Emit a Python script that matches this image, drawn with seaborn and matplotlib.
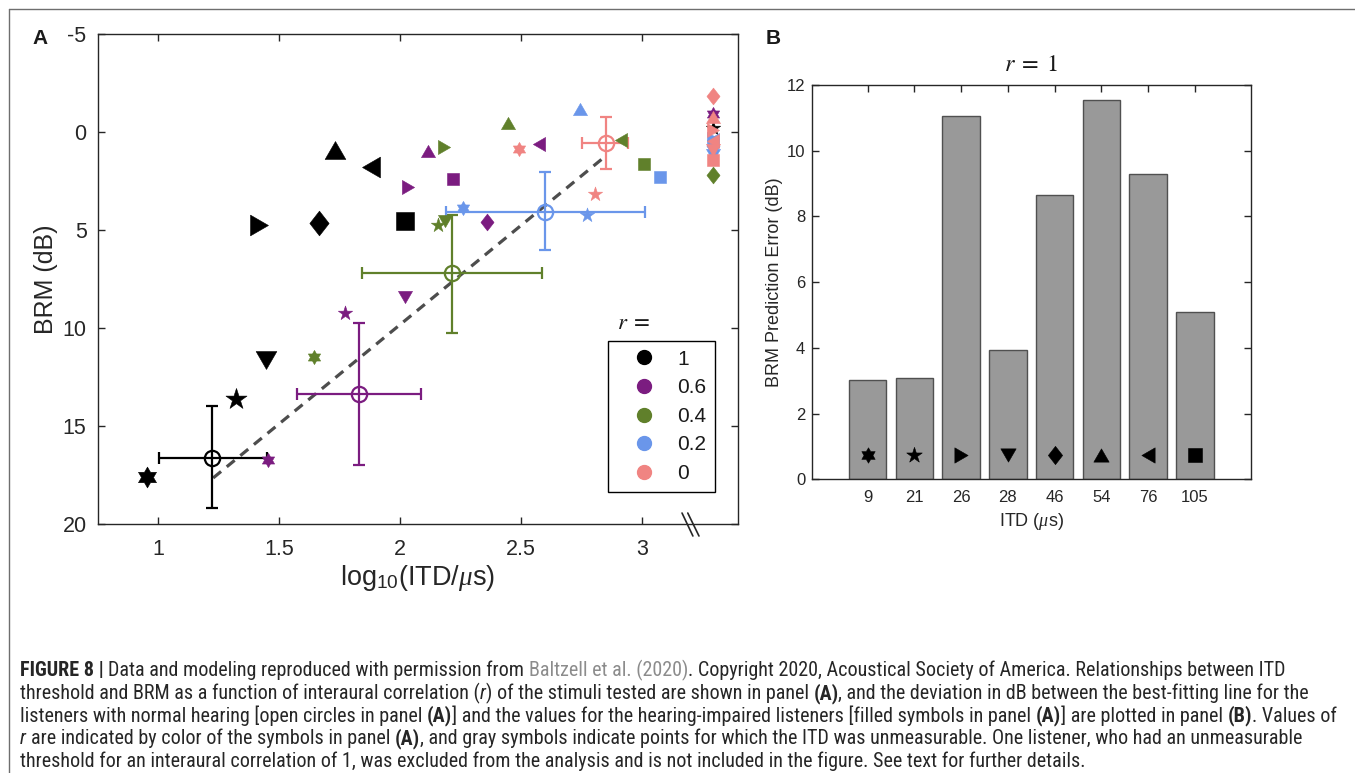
import numpy as np
import pandas as pd
import matplotlib
matplotlib.use("Agg")
import matplotlib.pyplot as plt
from matplotlib.path import Path
from matplotlib.lines import Line2D
from matplotlib.transforms import IdentityTransform
from matplotlib import font_manager
import seaborn as sns

# ---------------------------------------------------------------- data
# Hearing-impaired listeners, r = 1 (one symbol per listener)
itd_us = [9, 21, 26, 28, 46, 54, 76, 105]
itd_tick_labels = ["9", "21", "26", "28", "46", "54", "76", "105"]
listener_shapes = ["hexagram", "pentagram", "right", "down", "diamond", "up", "left", "square"]
brm_r1 = [17.62, 13.60, 4.72, 11.63, 4.64, 0.91, 1.79, 4.56]
prediction_error_db = [3.02, 3.09, 11.05, 3.95, 8.64, 11.54, 9.29, 5.08]

# r = 0.6
shapes_r06 = ["up", "right", "square", "diamond", "left", "down", "pentagram", "hexagram"]
log_itd_r06 = [2.113, 2.033, 2.219, 2.357, 2.574, 2.019, 1.771, 1.452]
brm_r06 = [0.99, 2.81, 2.40, 4.61, 0.60, 8.44, 9.22, 16.74]

# r = 0.4
shapes_r04 = ["up", "right", "left", "square", "pentagram", "down", "hexagram"]
log_itd_r04 = [2.446, 2.181, 2.911, 3.008, 2.157, 2.185, 1.643]
brm_r04 = [-0.45, 0.79, 0.40, 1.62, 4.76, 4.56, 11.46]

# r = 0.2
shapes_r02 = ["up", "square", "pentagram", "hexagram"]
log_itd_r02 = [2.743, 3.073, 2.770, 2.260]
brm_r02 = [-1.17, 2.30, 4.22, 3.87]

# r = 0
shapes_r0 = ["hexagram", "pentagram"]
log_itd_r0 = [2.492, 2.805]
brm_r0 = [0.87, 3.15]

# Unmeasurable ITD thresholds, shown past the axis break
unmeasurable_log_itd = 3.292
unmeas_r = ["0.6", "1", "0.2", "0.2", "0.2", "0.2", "0", "0", "0", "0", "0", "0", "0.4"]
unmeas_shapes = ["hexagram", "pentagram", "right", "left", "diamond", "down",
                 "up", "right", "left", "down", "square", "diamond", "diamond"]
unmeas_brm = [-0.9, -0.2, 0.35, 0.4, 0.7, 1.15, -0.75, -0.1, 0.45, 0.9, 1.45, -1.86, 2.21]

# Normal-hearing group means with their ranges
nh_r = ["1", "0.6", "0.4", "0.2", "0"]
nh_log_itd = [1.223, 1.829, 2.212, 2.598, 2.849]
nh_log_itd_lo = [1.004, 1.574, 1.843, 2.188, 2.750]
nh_log_itd_hi = [1.448, 2.086, 2.584, 3.011, 2.942]
nh_brm = [16.64, 13.38, 7.18, 4.10, 0.57]
nh_brm_lo = [14.00, 9.73, 4.22, 2.06, -0.74]
nh_brm_hi = [19.20, 16.99, 10.24, 6.03, 1.89]

# Best-fitting line for the normal-hearing listeners
fit_log_itd = [1.227, 2.846]
fit_brm = [17.65, 1.25]

r_levels = ["1", "0.6", "0.4", "0.2", "0"]
r_colors = ["#000000", "#7B1C80", "#60802B", "#6A96EA", "#F08482"]
palette = dict(zip(r_levels, r_colors))

# ---------------------------------------------------------------- style
sns.set_theme(style="ticks")
plt.rcParams["font.family"] = ["Liberation Sans", "DejaVu Sans"]
plt.rcParams["mathtext.fontset"] = "custom"
plt.rcParams["mathtext.rm"] = "Liberation Sans"
plt.rcParams["mathtext.it"] = "Liberation Serif:italic"
plt.rcParams["mathtext.bf"] = "Liberation Sans:bold"
plt.rcParams["axes.unicode_minus"] = False
plt.rcParams["axes.edgecolor"] = "#262626"
plt.rcParams["xtick.color"] = "#262626"
plt.rcParams["ytick.color"] = "#262626"
plt.rcParams["text.color"] = "#1a1a1a"


# ---------------------------------------------------------------- markers
def _poly(verts):
    verts = np.asarray(verts, float)
    codes = [Path.MOVETO] + [Path.LINETO] * (len(verts) - 1) + [Path.CLOSEPOLY]
    return Path(np.vstack([verts, verts[:1]]), codes)


def _triangle(angle):
    base = np.array([[0, 0.866], [-1, -0.866], [1, -0.866]])
    t = np.deg2rad(angle)
    rot = np.array([[np.cos(t), -np.sin(t)], [np.sin(t), np.cos(t)]])
    return _poly(base @ rot.T)


def _star(n, inner):
    k = np.arange(2 * n)
    ang = np.pi / 2 + k * np.pi / n
    rad = np.where(k % 2 == 0, 1.0, inner)
    return _poly(np.c_[rad * np.cos(ang), rad * np.sin(ang)])


MARKERS = {
    "up": _triangle(0), "down": _triangle(180),
    "left": _triangle(90), "right": _triangle(-90),
    "square": _poly([[-1, -1], [1, -1], [1, 1], [-1, 1]]),
    "diamond": _poly([[0, 1], [0.78, 0], [0, -1], [-0.78, 0]]),
    "pentagram": _star(5, 0.382),
    "hexagram": _star(6, 0.577),
}
BASE_SIZE = {"up": 14.9, "down": 14.9, "left": 14.9, "right": 14.9,
             "square": 12.7, "diamond": 17.8, "pentagram": 15.9, "hexagram": 15.0}


def draw_points(ax, xs, ys, shapes, color, scale, zorder=4):
    df = pd.DataFrame({"x": xs, "y": ys, "shape": shapes})
    for shp, grp in df.groupby("shape", sort=False):
        size = BASE_SIZE[shp] * scale
        sns.scatterplot(data=grp, x="x", y="y", ax=ax, marker=MARKERS[shp],
                        s=size ** 2, color=color, edgecolor=color, linewidth=0.4,
                        legend=False, zorder=zorder)


# ---------------------------------------------------------------- figure
W, H = 1355, 773
fig = plt.figure(figsize=(W / 100, H / 100), dpi=100)
axA = fig.add_axes([97.7 / W, 1 - 524 / H, 640 / W, 490 / H])
axB = fig.add_axes([812.3 / W, 1 - 479.3 / H, 438.7 / W, 394.3 / H])

# ----- panel A
sns.lineplot(x=fit_log_itd, y=fit_brm, ax=axA, color="#4d4d4d", linewidth=2.3,
             linestyle=(0, (3.2, 2.3)), legend=False, zorder=2)

for r, x, xlo, xhi, y, ylo, yhi in zip(nh_r, nh_log_itd, nh_log_itd_lo, nh_log_itd_hi,
                                      nh_brm, nh_brm_lo, nh_brm_hi):
    c = palette[r]
    axA.errorbar([x], [y], xerr=[[x - xlo], [xhi - x]], yerr=[[y - ylo], [yhi - y]],
                 fmt="o", mfc="none", mec=c, ms=11, mew=1.6, ecolor=c,
                 elinewidth=1.6, capsize=4.3, capthick=1.6, zorder=3)

draw_points(axA, np.log10(itd_us), brm_r1, listener_shapes, palette["1"], 1.0)
draw_points(axA, log_itd_r06, brm_r06, shapes_r06, palette["0.6"], 0.68)
draw_points(axA, log_itd_r04, brm_r04, shapes_r04, palette["0.4"], 0.68)
draw_points(axA, log_itd_r02, brm_r02, shapes_r02, palette["0.2"], 0.68)
draw_points(axA, log_itd_r0, brm_r0, shapes_r0, palette["0"], 0.68)

for r, shp, y in zip(unmeas_r, unmeas_shapes, unmeas_brm):
    draw_points(axA, [unmeasurable_log_itd], [y], [shp], palette[r], 0.68, zorder=5)

axA.set_xlim(0.75, 3.394)
axA.set_ylim(20, -5)
axA.set_xticks([1, 1.5, 2, 2.5, 3])
axA.set_xticklabels(["1", "1.5", "2", "2.5", "3"])
axA.set_yticks([-5, 0, 5, 10, 15, 20])
axA.tick_params(direction="in", length=5, width=1, top=True, right=True, labelsize=15.5)
axA.tick_params(axis="x", pad=11)
axA.tick_params(axis="y", pad=8)
for sp in axA.spines.values():
    sp.set_linewidth(1.0)
axA.set_xlabel(r"log$_{10}$(ITD/$\mu$s)", fontsize=19.5, labelpad=2)
axA.set_ylabel("BRM (dB)", fontsize=18, labelpad=3)

# axis break on the bottom axis
for x0, x1 in [(0.913, 0.930), (0.922, 0.9395)]:
    axA.add_line(Line2D([x0, x1], [0.0224, -0.0245], transform=axA.transAxes,
                        color="#262626", lw=1.2, clip_on=False))

handles = [Line2D([], [], ls="", marker="o", markersize=10, markerfacecolor=c,
                  markeredgecolor=c) for c in r_colors]
leg = axA.legend(handles, r_levels, loc="upper left", bbox_to_anchor=(0.797, 0.3735),
                 bbox_transform=axA.transAxes, frameon=True, fancybox=False,
                 edgecolor="black", framealpha=1, fontsize=15, borderaxespad=0,
                 borderpad=0.42, labelspacing=0.46, handlelength=2.6, handletextpad=0.32)
leg.get_frame().set_linewidth(1.0)
axA.text(0.811, 0.412, r"$r\;=$", transform=axA.transAxes, ha="left", va="center",
         fontsize=16.5, math_fontfamily="stix")

# ----- panel B
sns.barplot(x=itd_tick_labels, y=prediction_error_db, ax=axB, color="#999999",
            edgecolor="#505050", linewidth=1.0, width=0.8, saturation=1, zorder=2)
centers = [p.get_x() + p.get_width() / 2 for p in axB.patches]
for cx, shp in zip(centers, listener_shapes):
    draw_points(axB, [cx], [0.74], [shp], "#000000", 0.74, zorder=4)

axB.set_xlim(-1.185, 8.2)
axB.set_ylim(0, 12)
axB.set_xticks(centers)
axB.set_xticklabels(itd_tick_labels)
axB.set_yticks(np.arange(0, 13, 2))
axB.tick_params(direction="in", length=5, width=1, top=True, right=True, labelsize=12)
axB.tick_params(axis="x", pad=8)
axB.tick_params(axis="y", pad=5)
for sp in axB.spines.values():
    sp.set_linewidth(1.0)
axB.set_xlabel(r"ITD ($\mu$s)", fontsize=13, labelpad=4)
axB.set_ylabel("BRM Prediction Error (dB)", fontsize=13, labelpad=3)
axB.set_title(r"$r\;=\;1$", fontsize=17.5, pad=10, math_fontfamily="stix")

# panel letters
fig.text(32, H - 44, "A", transform=IdentityTransform(), fontsize=15, fontweight="bold",
         ha="left", va="baseline")
fig.text(766, H - 44, "B", transform=IdentityTransform(), fontsize=15, fontweight="bold",
         ha="left", va="baseline")

# ---------------------------------------------------------------- caption
available = {f.name for f in font_manager.fontManager.ttflist}
cap_family = "Liberation Sans"
for name in ["Liberation Sans Narrow", "Roboto Condensed", "Open Sans Condensed"]:
    if name in available:
        cap_family = name
        break

caption_lines = [
    [("FIGURE 8 |", "b"), (" Data and modeling reproduced with permission from ", "n"),
     ("Baltzell et al. (2020)", "g"),
     (". Copyright 2020, Acoustical Society of America. Relationships between ITD", "n")],
    [("threshold and BRM as a function of interaural correlation (", "n"), ("r", "i"),
     (") of the stimuli tested are shown in panel ", "n"), ("(A)", "b"),
     (", and the deviation in dB between the best-fitting line for the", "n")],
    [("listeners with normal hearing [open circles in panel ", "n"), ("(A)", "b"),
     ("] and the values for the hearing-impaired listeners [filled symbols in panel ", "n"),
     ("(A)", "b"), ("] are plotted in panel ", "n"), ("(B)", "b"), (". Values of", "n")],
    [("r", "i"), (" are indicated by color of the symbols in panel ", "n"), ("(A)", "b"),
     (", and gray symbols indicate points for which the ITD was unmeasurable. "
      "One listener, who had an unmeasurable", "n")],
    [("threshold for an interaural correlation of 1, was excluded from the analysis "
      "and is not included in the figure. See text for further details.", "n")],
]
cap_style = {
    "n": dict(color="#262626"),
    "b": dict(color="#262626", fontweight="bold"),
    "i": dict(color="#262626", fontstyle="italic"),
    "g": dict(color="#8c8c8c"),
}
renderer = fig.canvas.get_renderer()


def text_width(s, size, style):
    t = fig.text(0, 0, s, fontsize=size, family=cap_family,
                 transform=IdentityTransform(), **cap_style[style])
    w = t.get_window_extent(renderer).width
    t.remove()
    return w


def space_width(size, style):
    return text_width("x x", size, style) - text_width("xx", size, style)


def line_width(segs, size):
    total = 0.0
    for s, st in segs:
        core = s.strip(" ")
        n_sp = len(s) - len(core)
        total += n_sp * space_width(size, st)
        if core:
            total += text_width(core, size, st)
    return total


# pick the caption size so the widest line spans the text block
cap_size = 10.0
for _ in range(4):
    cap_size *= 1325 / line_width(caption_lines[2], cap_size)

baselines = [676, 699, 721.7, 744.5, 767]
for segs, base in zip(caption_lines, baselines):
    x = 20.0
    for s, st in segs:
        lead = len(s) - len(s.lstrip(" "))
        trail = len(s) - len(s.rstrip(" "))
        core = s.strip(" ")
        sw = space_width(cap_size, st)
        x += lead * sw
        if core:
            t = fig.text(x, H - base, core, fontsize=cap_size, family=cap_family,
                         transform=IdentityTransform(), ha="left", va="baseline",
                         **cap_style[st])
            x += t.get_window_extent(renderer).width
        x += trail * sw

# outer frame (top and left edges)
fig.add_artist(Line2D([8.5, 8.5], [0, H - 8.5], transform=IdentityTransform(),
                      color="#6e6e6e", lw=1.0))
fig.add_artist(Line2D([8.5, W], [H - 8.5, H - 8.5], transform=IdentityTransform(),
                      color="#6e6e6e", lw=1.0))

fig.savefig("out.png", dpi=100)
